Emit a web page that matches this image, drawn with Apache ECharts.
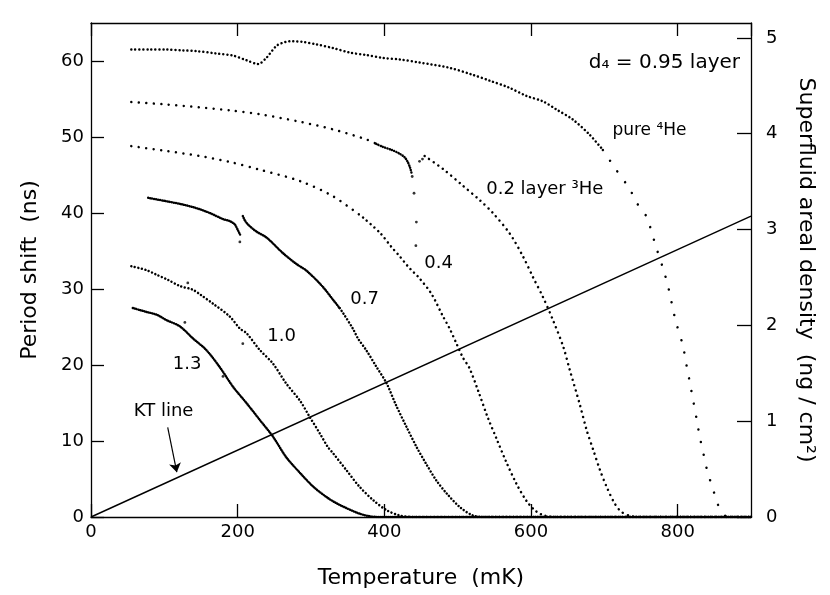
<!DOCTYPE html>
<html>
<head>
<meta charset="utf-8">
<script src="https://cdn.jsdelivr.net/npm/echarts@6/dist/echarts.min.js"></script>
<style>
html,body{margin:0;padding:0;background:#fff}
#chart{width:830px;height:595px}
</style>
</head>
<body>
<div id="chart"></div>
<script>
// temperature (mK) vs period shift (ns)
var pure4He = [[55,61.5],[80,61.5],[103,61.5],[125,61.4],[144,61.3],[170,61.0],[194,60.7],[212,60.1],[228,59.6],[239,60.4],[253,62.0],[265,62.5],[275,62.6],[290,62.5],[307,62.2],[330,61.7],[353,61.1],[375,60.8],[398,60.4],[421,60.2],[448,59.8],[489,59.1],[520,58.2],[544,57.4],[570,56.5],[594,55.4],[616,54.7],[635,53.6],[657,52.3],[680,50.3],[698,48.3]];
var pure4HeTail = [[698,48.3],[716,45.7],[735,43.1],[743,41.5],[757,39.6],[771,35.4],[782,32.1],[788,29.9],[797,25.9],[807,22.6],[812,20.0],[816,18.0],[821,15.4],[826,12.8],[830,10.6],[835,8.4],[840,6.2],[845,4.6],[850,3.1],[855,1.6],[860,0.7],[866,0.1],[880,0],[900,0]];
var layer02a = [[55,54.6],[100,54.3],[148,53.9],[190,53.5],[230,53.0],[285,52.0],[330,51.0],[375,49.7],[389,49.1]];
var layer02b = [[389,49.1],[398,48.7],[410,48.3],[421,47.8],[428,47.3],[432,46.7],[435,46.0],[437,45.3]];
var layer02c = [[455,47.5],[480,45.8],[507,43.6],[530,41.7],[548,40.0],[571,37.3],[589,34.3],[603,31.5],[616,29.0],[630,25.9],[644,22.4],[653,19.3],[666,15.0],[676,11.4],[685,8.8],[694,6.2],[703,4.0],[714,1.8],[723,0.7],[735,0.15],[750,0],[900,0]];
var layer04a = [[55,48.8],[100,48.2],[148,47.5],[190,46.7],[230,45.7],[285,44.2],[330,42.2],[371,39.4]];
var layer04b = [[371,39.4],[394,37.4],[410,35.5],[421,34.3],[432,33.0],[440,32.2],[448,31.4],[464,29.4],[480,26.4],[489,24.8],[498,22.9],[507,21.0],[516,19.6],[528,16.6],[541,13.1],[553,10.3],[566,7.3],[580,4.4],[594,2.1],[605,0.9],[615,0.3],[625,0.05],[640,0],[900,0]];
var layer07a = [[78,42.0],[100,41.6],[126,41.1],[145,40.6],[162,40.0],[180,39.2],[190,38.9],[196,38.5],[200,37.8],[204,37.0]];
var layer07b = [[207,39.6],[210,39.0],[214,38.5],[225,37.6],[239,36.8],[262,34.7],[280,33.3],[294,32.4],[316,30.3],[330,28.6],[339,27.5]];
var layer07c = [[339,27.5],[344,26.8],[357,24.8],[364,23.5],[375,22.0],[389,19.8],[403,17.6],[416,14.7],[430,11.9],[444,9.2],[457,7.0],[471,4.8],[485,3.1],[503,1.3],[521,0.2],[540,0],[900,0]];
var layer10 = [[55,33.0],[75,32.5],[89,31.9],[105,31.2],[121,30.4],[139,29.9],[150,29.2],[166,28.1],[189,26.4],[203,24.8],[212,24.2],[230,22.0],[248,20.2],[266,17.6],[285,15.3],[298,13.2],[312,11.0],[323,9.2],[330,8.4],[348,6.2],[366,4.0],[385,2.2],[403,0.9],[421,0.2],[440,0],[900,0]];
var layer13 = [[57,27.5],[75,27.0],[90,26.6],[103,25.9],[121,25.1],[139,23.5],[157,22.0],[175,19.8],[194,17.1],[212,15.0],[230,12.8],[248,10.6],[266,7.9],[285,5.8],[303,4.0],[323,2.5],[339,1.6],[366,0.45],[384,0.05],[400,0],[900,0]];
var layer02drop = [[438,44.8],[440.5,42.6],[443.7,38.8],[443,35.7],[448,46.8],[452,47.1]];
var strayPoints = [[132,30.8],[207,22.8],[128,25.6],[180,18.5],[203,36.2]];
// KT line in ng/cm^2 (right axis)
var ktLine = [[0,0],[900,3.14]];

var nsPerDensity = 12.607;

var FONT = 'DejaVu Sans';
var chart = echarts.init(document.getElementById('chart'));

function dotted(data, gap, width){
    return {
        type:'line', data:data, symbol:'none', showSymbol:false,
        smooth:0.3, silent:true, animation:false,
        lineStyle:{color:'#000', width:width || 2.5, type:[0.01, gap], cap:'round'}
    };
}

function axisCommon(len){
    return {
        axisLine:{show:true, onZero:false, lineStyle:{color:'#000', width:1.3}},
        axisTick:{show:true, inside:true, length:len, lineStyle:{color:'#000', width:1.3}},
        splitLine:{show:false}
    };
}

var xBottom = Object.assign(axisCommon(13), {
    type:'value', position:'bottom', min:0, max:900, interval:200,
    axisLabel:{show:true, margin:6, fontSize:18, fontFamily:FONT, color:'#000', showMaxLabel:false},
    name:'Temperature  (mK)', nameLocation:'middle', nameGap:50,
    nameTextStyle:{fontSize:22, fontFamily:FONT, color:'#000'}
});
var xTop = Object.assign(axisCommon(13), {
    type:'value', position:'top', min:0, max:900, interval:200,
    axisLabel:{show:false}
});
var yLeft = Object.assign(axisCommon(13), {
    type:'value', position:'left', min:0, max:65, interval:10,
    axisLabel:{show:true, margin:7, fontSize:18, fontFamily:FONT, color:'#000', showMaxLabel:false},
    name:'Period shift  (ns)', nameLocation:'middle', nameGap:50, nameRotate:90,
    nameTextStyle:{fontSize:22, fontFamily:FONT, color:'#000'}
});
var yRight = Object.assign(axisCommon(14), {
    type:'value', position:'right', min:0, max:65 / nsPerDensity, interval:1,
    axisLabel:{show:true, margin:15, fontSize:18, fontFamily:FONT, color:'#000', showMaxLabel:false},
    name:'Superfluid areal density  (ng / cm²)', nameLocation:'middle', nameGap:44, nameRotate:-90,
    nameTextStyle:{fontSize:22, fontFamily:FONT, color:'#000'}
});

var option = {
    animation:false,
    backgroundColor:'#fff',
    textStyle:{fontFamily:FONT},
    grid:{left:91, right:79, top:23, bottom:78, containLabel:false},
    xAxis:[xBottom, xTop],
    yAxis:[yLeft, yRight],
    series:[
        dotted(pure4He, 4),
        dotted(pure4HeTail, 13),
        dotted(layer02a, 7.5),
        dotted(layer02b, 2.4),
        dotted(layer02c, 5.5),
        dotted(layer04a, 7.5),
        dotted(layer04b, 5),
        dotted(layer07a, 2),
        dotted(layer07b, 2),
        dotted(layer07c, 3.4),
        dotted(layer10, 3.6),
        dotted(layer13, 2),
        {
            type:'scatter', data:layer02drop.concat(strayPoints), symbolSize:2.8,
            itemStyle:{color:'#000'}, silent:true,
            markLine:{
                silent:true, symbol:['none','arrow'], symbolSize:9,
                label:{show:false},
                lineStyle:{color:'#000', width:1.2, type:'solid'},
                data:[[{coord:[104.6,11.8]},{coord:[117,5.9]}]]
            }
        },
        {
            type:'line', yAxisIndex:1, data:ktLine, symbol:'none', silent:true,
            lineStyle:{color:'#000', width:1.4}
        }
    ]
};
chart.setOption(option);

// curve labels, placed in data coordinates
var notes = [
    {text:'1.3', at:[131,20.1], size:18, align:'center'},
    {text:'1.0', at:[260,23.8], size:18, align:'center'},
    {text:'0.7', at:[373,28.6], size:18, align:'center'},
    {text:'0.4', at:[474,33.4], size:18, align:'center'},
    {text:'0.2 layer ³He', at:[539,43.1], size:18, align:'left'},
    {text:'pure ⁴He', at:[711,50.9], size:17, align:'left'},
    {text:'d₄ = 0.95 layer', at:[885,59.7], size:20, align:'right'},
    {text:'KT line', at:[99,13.9], size:18, align:'center'}
];
chart.setOption({
    graphic: notes.map(function(n){
        var p = chart.convertToPixel({xAxisIndex:0, yAxisIndex:0}, n.at);
        return {
            type:'text', x:p[0], y:p[1], silent:true, z:10,
            style:{text:n.text, fontSize:n.size, fontFamily:FONT, fill:'#000',
                   textAlign:n.align, align:n.align, textVerticalAlign:'middle', verticalAlign:'middle'}
        };
    })
});
</script>
</body>
</html>
